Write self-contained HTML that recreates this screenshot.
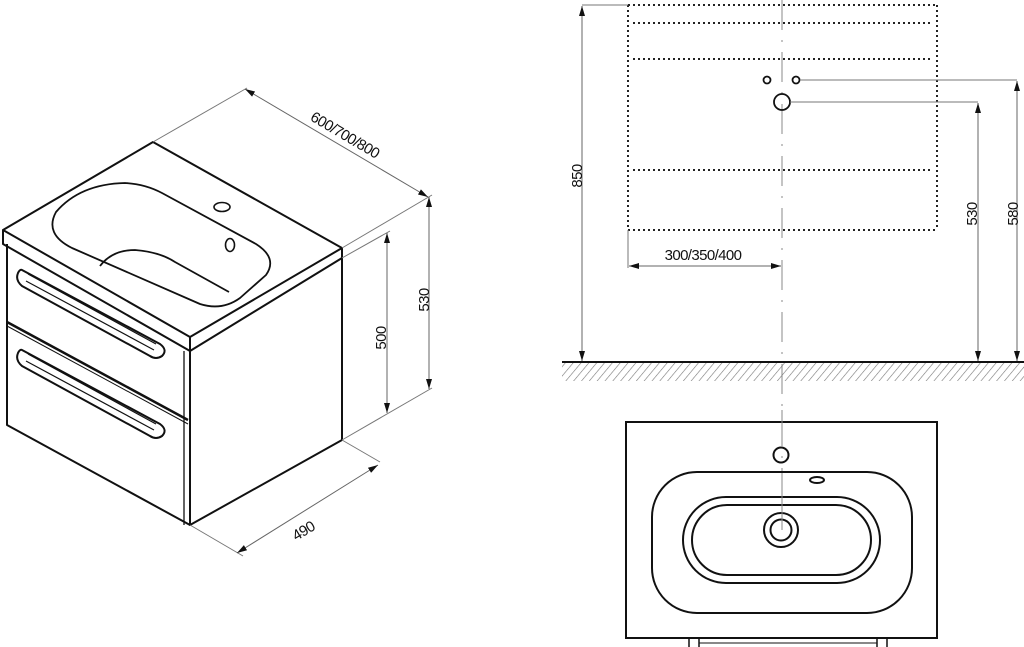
<!DOCTYPE html>
<html><head><meta charset="utf-8"><style>
html,body{margin:0;padding:0;background:#fff;width:1024px;height:647px;overflow:hidden}
svg{display:block}
text{font-family:"Liberation Sans",sans-serif;font-size:15px;letter-spacing:-0.6px;fill:#111}
</style></head><body>
<svg width="1024" height="647" viewBox="0 0 1024 647" xmlns="http://www.w3.org/2000/svg">
<defs>
<marker id="a" viewBox="0 0 10 6" refX="10" refY="3" markerWidth="10" markerHeight="6" orient="auto-start-reverse" markerUnits="userSpaceOnUse"><path d="M0,0 L10,3 L0,6 Z" fill="#111"/></marker>
<pattern id="h" width="6" height="6" patternUnits="userSpaceOnUse" patternTransform="rotate(40)"><line x1="0" y1="0" x2="0" y2="6" stroke="#777" stroke-width="1.2"/></pattern>
</defs>

<g fill="none" stroke="#111" stroke-width="2" stroke-linejoin="round">
<path d="M153,142 L342,248 L190,337 L3,230 Z"/>
<path d="M3,230 L3,244 L190,351 L190,337"/>
<path d="M342,248 L342,258 L190,351"/>
<path d="M7,244 L7,425 L190,525"/>
<path d="M190,351 L190,525 L342,440 L342,258"/>
<path d="M184,351 L184,525" stroke-width="1.3"/>
<path d="M7,322 L188,420" stroke-width="2.5"/>
<path d="M7,326 L188,424" stroke-width="1"/>
<path d="M22,270 L160,344 Q168,350 162,356 Q156,360 150,356 L22,286 Q15,280 18,273 Q20,269 22,270 Z"/>
<path d="M28,274 L156,344 M26,281 L154,350" stroke-width="1.2"/>
<path d="M22,350 L160,424 Q168,430 162,436 Q156,440 150,436 L22,366 Q15,360 18,353 Q20,349 22,350 Z"/>
<path d="M28,354 L156,424 M26,361 L154,430" stroke-width="1.2"/>
<path d="M56,212 Q80,184 125,183 Q145,184 162,193 L256,244 Q278,258 266,275 L240,298 Q222,311 200,304 L72,248 Q44,234 56,212 Z" stroke-width="1.8"/>
<path d="M100,266 Q112,250 135,250 Q160,252 175,262 L229,292" stroke-width="1.8"/>
<ellipse cx="222" cy="207" rx="8" ry="4.5" stroke-width="1.6"/>
<ellipse cx="230" cy="245" rx="4.5" ry="6.5" stroke-width="1.6"/>
</g>
<g stroke="#777" stroke-width="1" fill="none">
<line x1="153" y1="142" x2="247" y2="88"/>
<line x1="342" y1="248" x2="432" y2="195"/>
<line x1="342" y1="258" x2="390" y2="231"/>
<line x1="342" y1="440" x2="432" y2="388"/>
<line x1="190" y1="525" x2="243" y2="556"/>
<line x1="342" y1="440" x2="380" y2="462"/>
</g>
<g stroke="#666" stroke-width="1" fill="none" marker-start="url(#a)" marker-end="url(#a)">
<line x1="245" y1="89" x2="428" y2="197"/>
<line x1="429" y1="197" x2="429" y2="389"/>
<line x1="387" y1="233" x2="387" y2="413"/>
<line x1="237" y1="553" x2="378" y2="465"/>
</g>
<text x="345" y="140" text-anchor="middle" transform="rotate(30.5 345 135)">600/700/800</text>
<text x="424" y="305" text-anchor="middle" transform="rotate(-90 424 300)">530</text>
<text x="381" y="343" text-anchor="middle" transform="rotate(-90 381 338)">500</text>
<text x="303" y="536" text-anchor="middle" transform="rotate(-31 303 530)">490</text>

<g stroke="#222" stroke-width="2" stroke-dasharray="2 3" fill="none">
<line x1="628" y1="5" x2="937" y2="5"/>
<line x1="633" y1="23" x2="932" y2="23"/>
<line x1="633" y1="59" x2="932" y2="59"/>
<line x1="633" y1="170" x2="932" y2="170"/>
<line x1="628" y1="230" x2="937" y2="230"/>
<line x1="628" y1="5" x2="628" y2="230"/>
<line x1="937" y1="5" x2="937" y2="230"/>
</g>
<line x1="782" y1="0" x2="782" y2="470" stroke="#888" stroke-width="1" stroke-dasharray="30 10 2 10"/>
<line x1="782" y1="470" x2="782" y2="530" stroke="#888" stroke-width="1"/>
<g fill="none" stroke="#111" stroke-width="1.8">
<circle cx="767" cy="80" r="3.5"/>
<circle cx="796" cy="80" r="3.5"/>
<circle cx="782" cy="102" r="8"/>
</g>
<g stroke="#777" stroke-width="1" fill="none">
<polyline points="800,80 1017,80"/>
<polyline points="790,102 978,102"/>
<line x1="582" y1="5" x2="628" y2="5"/>
<line x1="628" y1="230" x2="628" y2="268"/>
</g>
<g stroke="#666" stroke-width="1" fill="none" marker-start="url(#a)" marker-end="url(#a)">
<line x1="582" y1="6" x2="582" y2="361"/>
<line x1="978" y1="103" x2="978" y2="361"/>
<line x1="1017" y1="81" x2="1017" y2="361"/>
<line x1="629" y1="266" x2="781" y2="266"/>
</g>
<text x="703" y="260" text-anchor="middle">300/350/400</text>
<text x="577" y="181" text-anchor="middle" transform="rotate(-90 577 176)">850</text>
<text x="972" y="219" text-anchor="middle" transform="rotate(-90 972 214)">530</text>
<text x="1013" y="219" text-anchor="middle" transform="rotate(-90 1013 214)">580</text>
<rect x="562" y="363" width="462" height="18" fill="url(#h)"/>
<line x1="562" y1="362" x2="1024" y2="362" stroke="#111" stroke-width="2"/>

<g fill="none" stroke="#111" stroke-width="2">
<rect x="626" y="422" width="311" height="216"/>
<rect x="652" y="472" width="260" height="141" rx="45" ry="45"/>
<rect x="683" y="497" width="197" height="86" rx="43" ry="43"/>
<rect x="692" y="505" width="179" height="70" rx="35" ry="35"/>
<circle cx="781" cy="530" r="17"/>
<circle cx="781" cy="530" r="10.5"/>
<circle cx="781" cy="455" r="7.5"/>
<ellipse cx="817" cy="480" rx="7" ry="3"/>
<path d="M689,638 L689,647 M699,638 L699,647 M877,638 L877,647 M887,638 L887,647" stroke-width="1.5"/>
<line x1="699" y1="643" x2="877" y2="643" stroke-width="1"/>
</g>
<line x1="782" y1="410" x2="782" y2="440" stroke="#888" stroke-width="1"/>
<line x1="782" y1="485" x2="782" y2="530" stroke="#888" stroke-width="1"/>
</svg>
</body></html>
